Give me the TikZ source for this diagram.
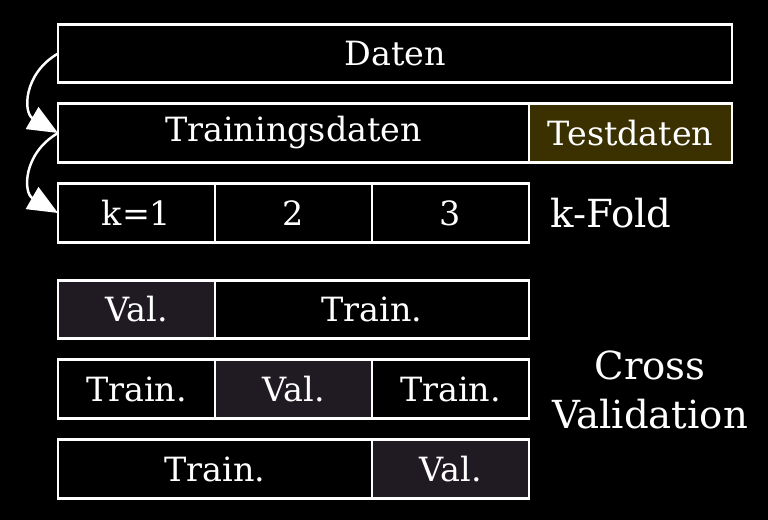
\documentclass[tikz,border=0pt]{standalone}
\usepackage{fontspec}
\setmainfont{DejaVu Serif}
\usepackage{xcolor}
\usepackage{tikz}
\usetikzlibrary{arrows.meta}

\definecolor{testcol}{HTML}{3A3000}
\definecolor{valcol}{HTML}{201A22}

\tikzset{
  cell/.style={draw=white, line width=1.6pt, minimum height=1.17cm,
    inner sep=0pt, outer sep=0pt, text=white,
    font=\fontsize{19}{22}\selectfont},
  small/.style={cell, minimum width=3.14cm},
  wide/.style={cell, minimum width=6.28cm},
  valcell/.style={small, fill=valcol},
  flow/.style={draw=white, line width=1.4pt, looseness=1.3,
    -{Triangle[length=0.6cm, width=0.5cm]}},
  side/.style={text=white, font=\fontsize{22}{28}\selectfont, align=center}
}

\begin{document}
\begin{tikzpicture}[x=0.02cm, y=-0.02cm]
  \fill[black] (0,0) rectangle (768,520);
  \useasboundingbox (0,0) rectangle (768,520);
  %% data split
  \node[cell, minimum width=13.48cm] (daten) at (395, 53.5) {Daten};
  \node[cell, minimum width=9.42cm] (train) at (293.5, 133) {Trainingsdaten};
  \node[cell, minimum width=4.06cm, fill=testcol] (test) at (630.5, 133) {Testdaten};
  %% folds
  \node[small] (k1) at (136.5, 213) {k=1};
  \node[small] (k2) at (293.5, 213) {2};
  \node[small] (k3) at (450.5, 213) {3};
  \node[side] (kfold) at (611, 213) {k-Fold};
  %% arrows
  \draw[flow] (daten.west) to[out=210, in=150] (train.west);
  \draw[flow] (train.west) to[out=210, in=150] (k1.west);
  %% cross validation runs
  \node[valcell] (va) at (136.5, 309.5) {Val.};
  \node[wide] (ta) at (372, 309.5) {Train.};
  \node[small] (tb1) at (136.5, 389) {Train.};
  \node[valcell] (vb) at (293.5, 389) {Val.};
  \node[small] (tb2) at (450.5, 389) {Train.};
  \node[wide] (tc) at (215, 469) {Train.};
  \node[valcell] (vc) at (450.5, 469) {Val.};
  \node[side] (cv) at (650, 390) {Cross\\Validation};
\end{tikzpicture}
\end{document}
